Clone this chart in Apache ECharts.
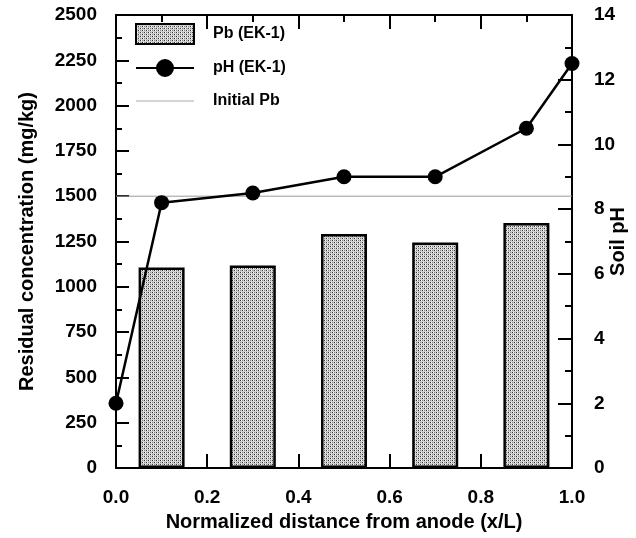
<!DOCTYPE html>
<html>
<head>
<meta charset="utf-8">
<script src="https://cdn.jsdelivr.net/npm/echarts@6/dist/echarts.min.js"></script>
<style>
html,body{margin:0;padding:0;background:#fff;}
#chart{width:636px;height:538px;}
</style>
</head>
<body>
<div id="chart"></div>
<script>
// Data
var barX = [0.1, 0.3, 0.5, 0.7, 0.9];
var pbValues = [1107, 1117, 1291, 1245, 1352];
var phX = [0, 0.1, 0.3, 0.5, 0.7, 0.9, 1.0];
var phValues = [2.0, 8.2, 8.5, 9.0, 9.0, 10.5, 12.5];
var initialPb = 1500;
var initialPbX = [0, 1.0];
var xTicks = ['0.0', '0.2', '0.4', '0.6', '0.8', '1.0'];

// stipple pattern
var pc = document.createElement('canvas');
pc.width = 4; pc.height = 4;
var ctx = pc.getContext('2d');
ctx.fillStyle = '#cfcfcf'; ctx.fillRect(0, 0, 4, 4);
ctx.fillStyle = '#ffffff';
ctx.fillRect(1, 0, 1, 1); ctx.fillRect(3, 2, 1, 1);
ctx.fillStyle = '#333333';
ctx.fillRect(0, 0, 1, 1); ctx.fillRect(2, 2, 1, 1);
ctx.fillStyle = '#8a8a8a';
ctx.fillRect(2, 0, 1, 1); ctx.fillRect(0, 2, 1, 1);

var FONT = '"Liberation Sans", Arial, sans-serif';
var chart = echarts.init(document.getElementById('chart'), null, {renderer: 'canvas'});

var axisLine = {show: true, onZero: false, lineStyle: {color: '#000', width: 2}};
var tickStyle = {color: '#000', width: 2};
var TICK_INSIDE = true;

var option = {
  animation: false,
  backgroundColor: '#fff',
  grid: {left: 116, right: 64, top: 15, bottom: 70, containLabel: false, outerBoundsMode: 'none'},
  legend: {
    orient: 'vertical', left: 130, top: 18,
    itemWidth: 58, itemHeight: 20, itemGap: 13,
    textStyle: {fontFamily: FONT, fontWeight: 'bold', fontSize: 16, color: '#000', padding: [0, 0, 0, 14]},
    data: [
      {name: 'Pb (EK-1)', icon: 'rect'},
      {name: 'pH (EK-1)', icon: 'path://M0,0 L0.01,0 M0,20 L0.01,20 M0,9 L58,9 L58,11 L0,11 Z M29,1 A9,9 0 1,1 28.99,1 Z', itemStyle: {color: '#000'}},
      {name: 'Initial Pb', icon: 'path://M0,0 L0.01,0 M0,20 L0.01,20 M0,9.5 L58,9.5 L58,10.5 L0,10.5 Z', itemStyle: {color: '#aaaaaa'}}
    ]
  },
  xAxis: [{
    type: 'value', min: 0, max: 1, interval: 0.2, position: 'bottom',
    name: 'Normalized distance from anode (x/L)', nameLocation: 'middle', nameGap: 44, nameMoveOverlap: false,
    nameTextStyle: {fontFamily: FONT, fontWeight: 'bold', fontSize: 20, color: '#000'},
    axisLine: axisLine,
    axisTick: {show: true, inside: TICK_INSIDE, length: 14, lineStyle: tickStyle},
    minorTick: {show: true, splitNumber: 2, length: 7, lineStyle: tickStyle},
    axisLabel: {margin: 20, fontFamily: FONT, fontWeight: 'bold', fontSize: 19, color: '#000',
      formatter: function (v) { return xTicks[Math.round(v / 0.2)]; }},
    splitLine: {show: false}
  }, {
    type: 'value', min: 0, max: 1, interval: 0.2, position: 'top',
    axisLine: axisLine,
    axisTick: {show: true, inside: TICK_INSIDE, length: 14, lineStyle: tickStyle},
    minorTick: {show: true, splitNumber: 2, length: 7, lineStyle: tickStyle},
    axisLabel: {show: false},
    splitLine: {show: false}
  }],
  yAxis: [{
    type: 'value', min: 0, max: 2500, interval: 250, position: 'left',
    name: 'Residual concentration (mg/kg)', nameLocation: 'middle', nameGap: 79, nameRotate: 90, nameMoveOverlap: false,
    nameTextStyle: {fontFamily: FONT, fontWeight: 'bold', fontSize: 20, color: '#000'},
    axisLine: axisLine,
    axisTick: {show: true, inside: TICK_INSIDE, length: 13, lineStyle: tickStyle},
    minorTick: {show: true, splitNumber: 2, length: 6, lineStyle: tickStyle},
    axisLabel: {margin: 19, fontFamily: FONT, fontWeight: 'bold', fontSize: 19, color: '#000',
      formatter: function (v) { return String(v); }},
    splitLine: {show: false}
  }, {
    type: 'value', min: 0, max: 14, interval: 2, position: 'right',
    name: 'Soil pH', nameLocation: 'middle', nameGap: 36, nameRotate: 90, nameMoveOverlap: false,
    nameTextStyle: {fontFamily: FONT, fontWeight: 'bold', fontSize: 20, color: '#000'},
    axisLine: axisLine,
    axisTick: {show: true, inside: TICK_INSIDE, length: 14, lineStyle: tickStyle},
    minorTick: {show: true, splitNumber: 2, length: 7, lineStyle: tickStyle},
    axisLabel: {margin: 22, fontFamily: FONT, fontWeight: 'bold', fontSize: 19, color: '#000',
      formatter: function (v) { return String(v); }},
    splitLine: {show: false}
  }],
  series: [{
    name: 'Pb (EK-1)', type: 'bar', xAxisIndex: 0, yAxisIndex: 0,
    barWidth: 46,
    itemStyle: {color: {image: pc, repeat: 'repeat'}, borderColor: '#000', borderWidth: 2.5},
    data: barX.map(function (x, i) { return [x, pbValues[i]]; }),
    z: 2
  }, {
    name: 'Initial Pb', type: 'line', xAxisIndex: 0, yAxisIndex: 0,
    symbol: 'none', lineStyle: {color: '#9a9a9a', width: 1},
    itemStyle: {color: '#9a9a9a'},
    data: initialPbX.map(function (x) { return [x, initialPb]; }),
    z: 3
  }, {
    name: 'pH (EK-1)', type: 'line', xAxisIndex: 0, yAxisIndex: 1,
    symbol: 'circle', symbolSize: 15, showSymbol: true, clip: false,
    lineStyle: {color: '#000', width: 2.5},
    itemStyle: {color: '#000'},
    data: phX.map(function (x, i) { return [x, phValues[i]]; }),
    z: 10
  }]
};
chart.setOption(option);
</script>
</body>
</html>
